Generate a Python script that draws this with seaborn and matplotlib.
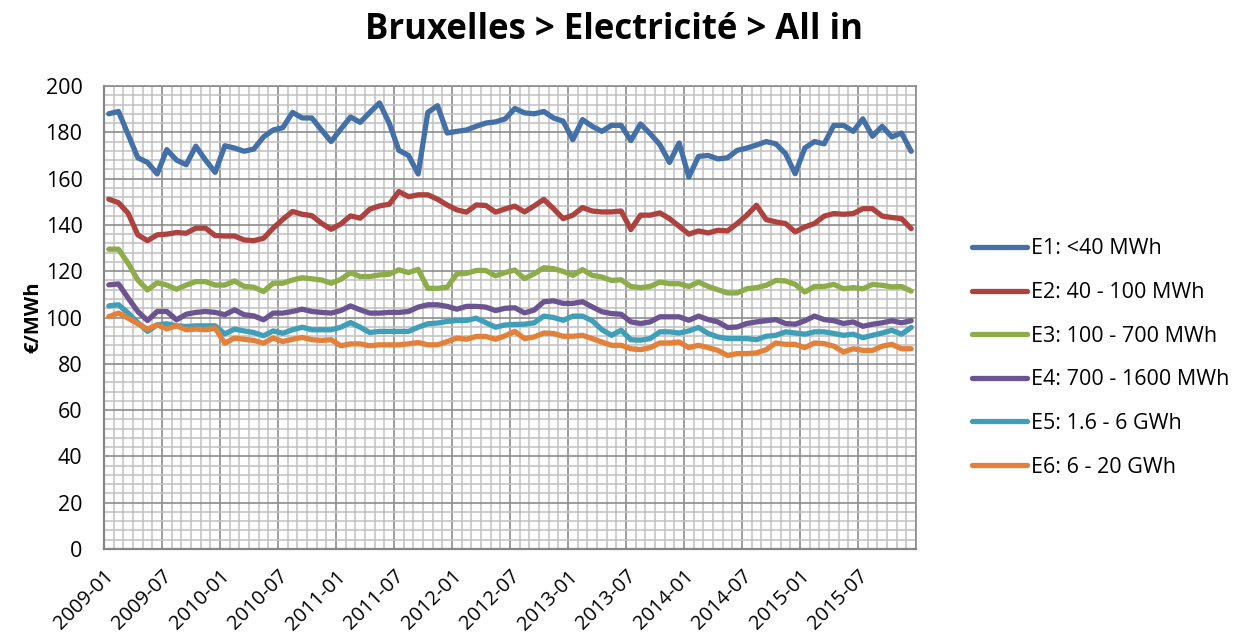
import numpy as np
import pandas as pd
import matplotlib
matplotlib.use("Agg")
import matplotlib.pyplot as plt
import seaborn as sns

# ---------------- data ----------------
months = pd.period_range("2009-01", "2015-12", freq="M").strftime("%Y-%m").tolist()

e1 = [188, 189, 179, 169, 167, 162, 172.5, 168, 166, 174, 168, 162.7,
      174.2, 173.2, 171.8, 172.8, 178, 181, 182, 188.6, 186.2, 186.2, 181, 176,
      181.4, 186.6, 184.3, 188.6, 192.7, 184, 172.2, 170, 162, 188.6, 191.5, 179.7,
      180.4, 181, 182.6, 184, 184.5, 185.8, 190.3, 188.4, 188, 189, 186.2, 184.8,
      176.8, 185.5, 182.6, 180.4, 183, 183, 176.4, 183.6, 179.4, 174.7, 167, 175.4,
      160.7, 169.6, 170, 168.5, 169, 172.2, 173.2, 174.5, 176, 175, 170.8, 162.1,
      173.2, 176, 175, 183, 183, 180.4, 185.8, 178.3, 182.6, 178, 179.7, 171.8]

e2 = [151.1, 149.6, 145, 135.7, 133.2, 135.7, 136, 136.7, 136.4, 138.6, 138.6, 135.4,
      135.2, 135.2, 133.5, 133.2, 134.2, 138.6, 142.4, 145.8, 144.6, 144, 140.7, 138.1,
      140.4, 143.9, 142.9, 146.8, 148.2, 148.9, 154.4, 152.2, 153, 153, 151.1, 148.6,
      146.5, 145.5, 148.6, 148.4, 145.5, 146.9, 148.1, 145.6, 148.2, 151, 147, 142.7,
      144.2, 147.5, 146, 145.6, 145.6, 146, 138, 144.2, 144.2, 145.2, 142.7, 139.4,
      136, 137.4, 136.5, 137.7, 137.4, 140.6, 144.2, 148.5, 142.3, 141.3, 140.6, 137,
      139.1, 140.6, 143.8, 144.9, 144.6, 144.9, 147, 147, 143.8, 143.2, 142.7, 138.4]

e3 = [129.5, 129.5, 123.4, 116.2, 111.9, 115, 114, 112.2, 114, 115.5, 115.5, 114,
      114, 115.8, 113.4, 113.1, 111.2, 114.8, 114.8, 116.2, 117.2, 116.7, 116.2, 114.8,
      116.5, 119.4, 117.7, 117.7, 118.4, 118.7, 120.6, 119.4, 120.8, 112.6, 112.6, 113.1,
      118.8, 119.1, 120.3, 120.3, 118, 119.4, 120.5, 116.8, 118.9, 121.5, 121.1, 119.9,
      118.2, 120.7, 118.2, 117.5, 116, 116.3, 113.4, 112.9, 113.4, 115.3, 114.6, 114.6,
      113.4, 115.3, 113.4, 112, 110.6, 110.6, 112.4, 112.9, 113.9, 116, 115.8, 114.3,
      111, 113.4, 113.4, 114.3, 112.4, 112.9, 112.4, 114.3, 113.9, 113.2, 113.4, 111.4]

e4 = [114.1, 114.5, 108.4, 102.6, 98.7, 102.6, 102.6, 99, 101.4, 102.2, 102.6, 102.2,
      101.2, 103.3, 101.2, 100.7, 99, 101.9, 101.9, 102.6, 103.6, 102.6, 102.2, 101.9,
      103, 105, 103.3, 101.9, 101.9, 102.2, 102.2, 102.6, 104.5, 105.5, 105.5, 104.8,
      103.6, 104.8, 104.8, 104.5, 103, 104, 104.2, 102, 103.2, 106.8, 107.2, 106.1,
      106.1, 106.8, 104.6, 102.5, 101.7, 101.4, 98.1, 97.4, 98.1, 100.3, 100.3, 100.3,
      98.8, 100.6, 99.1, 98.1, 95.7, 95.9, 97.4, 98.1, 98.6, 99.1, 97.4, 97.1,
      98.6, 100.6, 99.1, 98.6, 97.4, 98.1, 96.2, 97.1, 97.7, 98.6, 97.7, 98.6]

e5 = [105, 105.5, 101.9, 97.8, 94, 96.8, 97.3, 96.4, 96.1, 96.4, 96.4, 96.4,
      92.9, 95, 94.2, 93.5, 92.1, 94.2, 93.2, 94.7, 95.8, 94.7, 94.7, 94.7,
      95.8, 97.8, 95.8, 93.5, 94, 94, 94, 94, 95.8, 97.3, 97.6, 98.3,
      98.7, 98.7, 99.7, 97.8, 95.8, 96.8, 97, 97.1, 97.7, 100.6, 100, 98.8,
      100.6, 100.6, 98.6, 94.8, 92.3, 94.5, 90.4, 90.2, 90.9, 93.8, 93.8, 93.3,
      94.2, 95.7, 93.1, 91.6, 90.9, 90.9, 90.9, 90.4, 91.9, 92.3, 93.8, 93.3,
      92.8, 93.8, 93.8, 93.1, 92.3, 92.8, 91.3, 92.3, 93.3, 94.5, 92.8, 95.7]

e6 = [100.4, 101.9, 99.7, 97.3, 95, 96.8, 95.1, 96.4, 94.7, 95, 94.7, 95.4,
      88.9, 91.1, 90.6, 90.1, 88.9, 91.1, 89.6, 90.6, 91.4, 90.4, 90.1, 90.4,
      87.8, 88.6, 88.6, 87.8, 88.2, 88.2, 88.2, 88.6, 89.2, 88.2, 88.2, 89.6,
      91.1, 90.6, 91.8, 91.8, 90.6, 92.1, 94, 90.9, 91.6, 93.3, 93.1, 91.9,
      91.9, 92.3, 90.9, 89.4, 88, 88, 86.5, 86.1, 87, 89, 89, 89.4,
      87, 88, 87, 85.8, 83.6, 84.4, 84.4, 84.7, 86.1, 89, 88.4, 88.4,
      87, 89, 88.7, 87.6, 85.1, 86.5, 85.8, 85.8, 87.6, 88.4, 86.5, 86.5]

series_names = ["E1: <40 MWh", "E2: 40 - 100 MWh", "E3: 100 - 700 MWh",
                "E4: 700 - 1600 MWh", "E5: 1.6 - 6 GWh", "E6: 6 - 20 GWh"]
series_values = [e1, e2, e3, e4, e5, e6]
colors = ["#4470A8", "#AE423F", "#8CAD4A", "#6C5392", "#3F9FB8", "#E3813A"]

title = "Bruxelles > Electricité > All in"
ylabel = "€/MWh"

# ---------------- build long table ----------------
rows = []
for name, vals in zip(series_names, series_values):
    for i, (m, v) in enumerate(zip(months, vals)):
        rows.append({"idx": i + 0.5, "month": m, "series": name, "value": v})
df = pd.DataFrame(rows)

# ---------------- plot ----------------
sns.set_style("white")
plt.rcParams["font.family"] = ["Open Sans", "DejaVu Sans"]
plt.rcParams["text.color"] = "black"
plt.rcParams["xtick.color"] = "black"
plt.rcParams["ytick.color"] = "black"
plt.rcParams["axes.labelcolor"] = "black"

fig = plt.figure(figsize=(12.38, 6.38), dpi=100)
ax = fig.add_axes([104 / 1238, 1 - 549 / 638, (916 - 104) / 1238, (549 - 86) / 638])

sns.lineplot(data=df, x="idx", y="value", hue="series", hue_order=series_names,
             palette=colors, linewidth=3.8, ax=ax, legend=True,
             solid_capstyle="round", solid_joinstyle="round")

n = len(months)
ax.set_xlim(0, n)
ax.set_ylim(0, 200)

major_x = list(range(0, n + 1, 6))
ax.set_xticks(major_x)
ax.set_xticklabels([months[i] if i < n else "" for i in major_x],
                   rotation=45, ha="right", rotation_mode="anchor", fontsize=14.5)
ax.set_xticks(range(0, n + 1), minor=True)
ax.set_yticks(range(0, 201, 20))
ax.set_yticks(range(0, 201, 4), minor=True)
ax.tick_params(axis="y", labelsize=15.5, length=4.5, color="#868686", width=1.2, pad=11)
ax.tick_params(axis="x", length=4.5, color="#868686", width=1.2, pad=8)
ax.tick_params(which="minor", length=0)

ax.grid(which="minor", color="#C0C0C0", linewidth=1.1)
ax.grid(which="major", color="#8C8C8C", linewidth=1.2)
ax.set_axisbelow(True)
for s in ["top", "right"]:
    ax.spines[s].set_color("#8C8C8C")
    ax.spines[s].set_linewidth(1.2)
for s in ["left", "bottom"]:
    ax.spines[s].set_color("#868686")
    ax.spines[s].set_linewidth(1.6)

ax.set_xlabel("")
ax.set_ylabel("")
fig.text(33 / 1238, 1 - 317 / 638, ylabel, rotation=90, ha="center", va="center",
         fontsize=14.5, fontweight="bold")

handles, labels = ax.get_legend_handles_labels()
ax.legend(handles, labels, loc="center left", bbox_to_anchor=(972 / 1238, 1 - 358 / 638),
          bbox_transform=fig.transFigure, frameon=False, fontsize=15.5,
          handlelength=2.55, handletextpad=0.2, labelspacing=1.05,
          borderpad=0, borderaxespad=0)

fig.text(0.496, 1 - 30 / 638, title, ha="center", va="center",
         fontsize=25, fontweight="bold")

fig.savefig("out.png", dpi=100)
